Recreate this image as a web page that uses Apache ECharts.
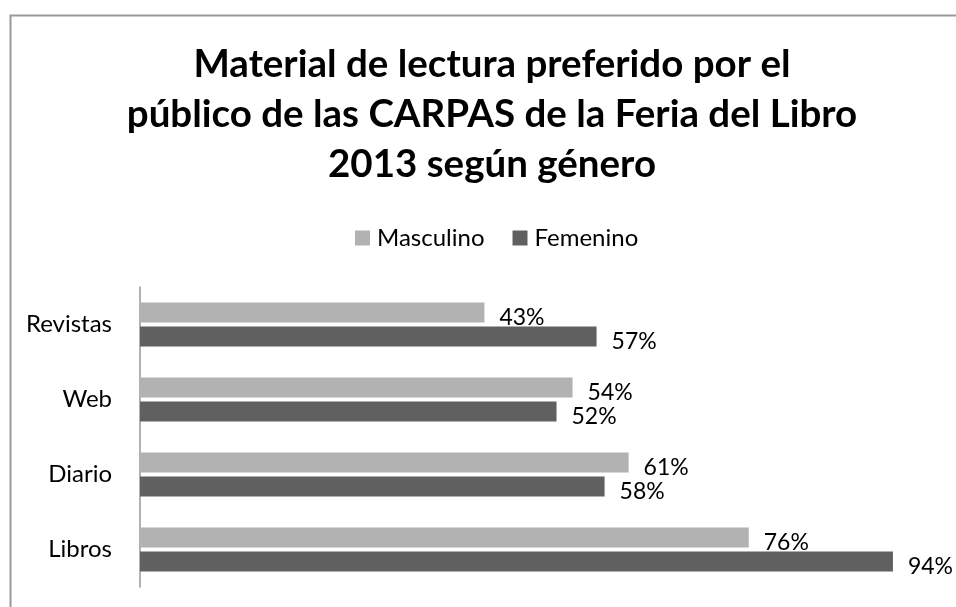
<!DOCTYPE html>
<html>
<head>
<meta charset="utf-8">
<script src="https://cdn.jsdelivr.net/npm/echarts@6/dist/echarts.min.js"></script>
<style>
html,body{margin:0;padding:0;background:#fff;}
#chart{width:956px;height:607px;}
</style>
</head>
<body>
<div id="chart"></div>
<script>
var categories = ['Revistas', 'Web', 'Diario', 'Libros'];
var masculino = [43, 54, 61, 76];
var femenino = [57, 52, 58, 94];
var seriesNames = ['Masculino', 'Femenino'];
var titleText = 'Material de lectura preferido por el\npúblico de las CARPAS de la Feria del Libro\n2013 según género';

var chart = echarts.init(document.getElementById('chart'));
var labelCfg = {
  show: true,
  position: 'right',
  distance: 15,
  offset: [0, 5],
  formatter: '{c}%',
  fontFamily: 'Lato',
  fontSize: 23,
  color: '#000'
};
chart.setOption({
  animation: false,
  backgroundColor: '#fff',
  graphic: [{
    type: 'rect',
    left: 8, top: 13,
    shape: {width: 1000, height: 700},
    style: {fill: 'none', stroke: '#999', lineWidth: 2}
  }],
  title: {
    text: titleText,
    left: 487,
    textAlign: 'center',
    top: 35,
    textStyle: {fontFamily: 'Lato', fontWeight: 'bold', fontSize: 38.5, lineHeight: 50, color: '#000'}
  },
  legend: {
    data: seriesNames,
    top: 221,
    left: 350,
    icon: 'rect',
    itemWidth: 15,
    itemHeight: 15,
    itemGap: 28,
    textStyle: {fontFamily: 'Lato', fontSize: 24, color: '#000', padding: [0, 0, 0, 2]}
  },
  grid: {left: 140, right: 15, top: 287, bottom: 20, containLabel: false},
  xAxis: {
    type: 'value', min: 0, max: 100,
    show: false
  },
  yAxis: {
    type: 'category',
    data: categories,
    inverse: true,
    axisLine: {show: true, lineStyle: {color: '#999', width: 1.5}},
    axisTick: {show: false},
    axisLabel: {fontFamily: 'Lato', fontSize: 24, color: '#000', margin: 28}
  },
  series: [
    {name: seriesNames[0], type: 'bar', data: masculino, barWidth: 20, barGap: '20%',
     itemStyle: {color: '#b2b2b2'}, label: labelCfg},
    {name: seriesNames[1], type: 'bar', data: femenino, barWidth: 20, barGap: '20%',
     itemStyle: {color: '#606060'}, label: labelCfg}
  ]
});
</script>
</body>
</html>
